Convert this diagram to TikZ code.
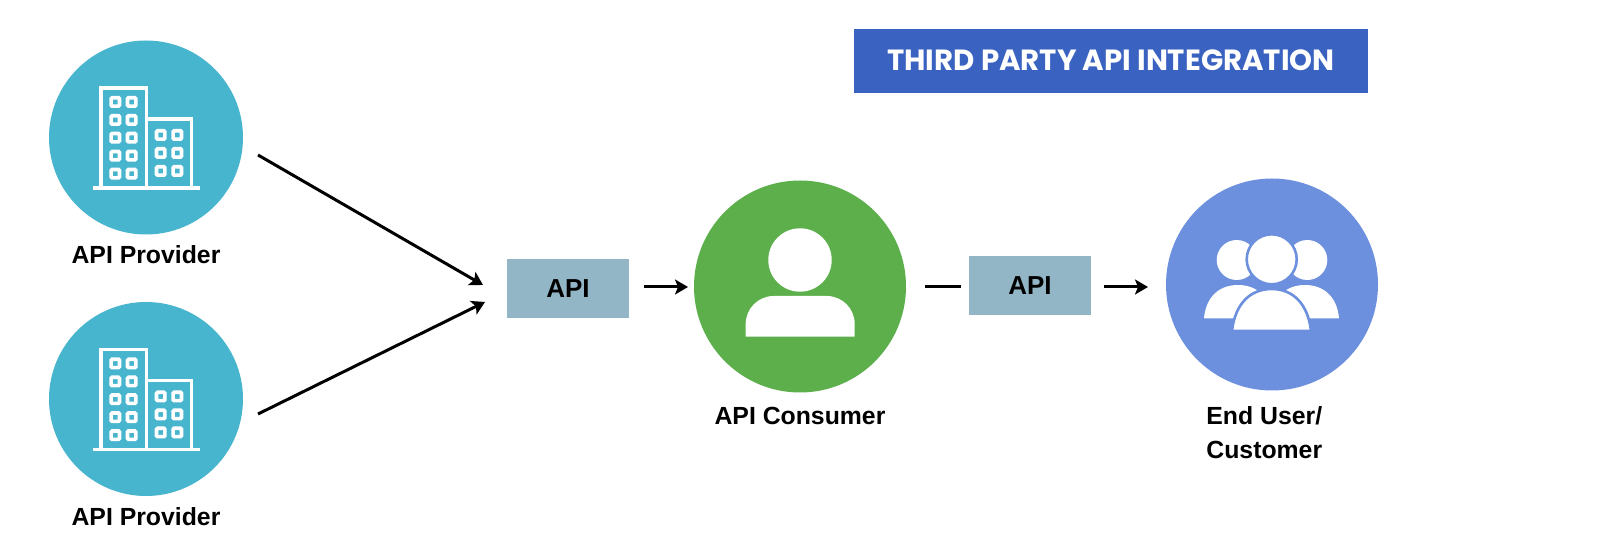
\documentclass[tikz,border=0pt]{standalone}
\usepackage{fontspec}
\setmainfont{Liberation Sans}
\newfontfamily\poppinsfont{Poppins}
\usetikzlibrary{arrows.meta}
\definecolor{teal1}{HTML}{47B5CE}
\definecolor{green1}{HTML}{5CAF4A}
\definecolor{blue1}{HTML}{6C90DD}
\definecolor{box1}{HTML}{93B6C7}
\definecolor{title1}{HTML}{3A62C0}
\tikzset{
  disc/.style={circle,inner sep=0pt,draw=none,fill=#1},
  apibox/.style={draw=none,fill=box1,inner sep=0pt,minimum width=61pt,minimum height=29.5pt,
    font=\fontsize{13}{15}\selectfont\bfseries,text=black},
  lbl/.style={font=\fontsize{12.4}{17}\selectfont\bfseries,text=black,inner sep=0pt},
  conn/.style={line width=1.5pt,draw=black},
  arr/.style={conn,-{Stealth[length=6.5pt,width=7.5pt,inset=1.5pt]}},
  bline/.style={draw=white,line width=1.6pt},
  win/.style={draw=white,line width=1.8pt,rounded corners=0.5pt},
}
\newcommand{\officeicon}{%
  \draw[bline] (101,188) -- (101,88) -- (146.5,88) -- (146.5,188);
  \draw[bline] (146.5,119) -- (191.5,119) -- (191.5,188);
  \draw[bline] (93,188) -- (200,188);
  \foreach \xx in {115.3,131.7}\foreach \yy in {102,120,137.7,155.7,173.7}
    \draw[win] (\xx-4.2,\yy-4.2) rectangle (\xx+4.2,\yy+4.2);
  \foreach \xx in {160.7,177.3}\foreach \yy in {135,153,171}
    \draw[win] (\xx-4.2,\yy-4.2) rectangle (\xx+4.2,\yy+4.2);
}
\begin{document}
\begin{tikzpicture}[x=0.5pt,y=-0.5pt]
\useasboundingbox (0,0) rectangle (1600,560);
\fill[white] (0,0) rectangle (1600,560);
% title
\node[draw=none,fill=title1,inner sep=0pt,minimum width=257pt,minimum height=32pt,text=white,
  font=\poppinsfont\fontsize{14.6}{16}\selectfont\bfseries] (title) at (1111,61) {\raisebox{0.5pt}{THIRD PARTY API INTEGRATION}};
% providers
\node[disc=teal1,minimum size=97pt] (prov1) at (146,137.5) {};
\officeicon
\node[lbl] (prov1l) at (146,255) {API Provider};
\node[disc=teal1,minimum size=97pt] (prov2) at (146,399) {};
\begin{scope}[yshift=-130.75pt]
\officeicon
\end{scope}
\node[lbl] (prov2l) at (146,517) {API Provider};
% API boxes
\node[apibox] (api1) at (568,288.5) {API};
\node[apibox] (api2) at (1030,286) {API};
% consumer
\node[disc=green1,minimum size=106pt] (cons) at (800,286.5) {};
\fill[white] (800,260) circle[radius=31.7];
\fill[white] (745.7,336.7) [rounded corners=14pt] -- (745.7,296) -- (854.7,296) [sharp corners] -- (854.7,336.7) -- cycle;
\node[lbl] (consl) at (800,416) {API Consumer};
% end user
\node[disc=blue1,minimum size=106pt] (user) at (1272,284.5) {};
\fill[white] (1236.7,260) circle[radius=20];
\fill[white] (1307.3,260) circle[radius=20];
\fill[white] (1204,318.3) .. controls (1206,296) and (1220,285) .. (1238,285)
  .. controls (1256,285) and (1270,296) .. (1272,318.3) -- cycle;
\fill[white] (1339,318.3) .. controls (1337,296) and (1323,285) .. (1305,285)
  .. controls (1287,285) and (1273,296) .. (1271,318.3) -- cycle;
\draw[draw=blue1,line width=1.3pt,fill=white] (1271.7,259.3) circle[radius=25];
\draw[draw=blue1,line width=1.3pt,fill=white] (1232,331) .. controls (1235,304) and (1250,289) .. (1271.7,289)
  .. controls (1293,289) and (1308,304) .. (1311,331) -- cycle;
\node[lbl,align=left,anchor=north west] (userl) at (1206,406) {End User/\\Customer};
% connectors
\coordinate (a1s) at (258,155);
\coordinate (a1e) at (483,285);
\coordinate (a2s) at (258,414);
\coordinate (a2e) at (485,302);
\coordinate (a3s) at (644,287);
\coordinate (a3e) at (688,287);
\coordinate (l1s) at (925,286.5);
\coordinate (l1e) at (961,286.5);
\coordinate (a4s) at (1104,287);
\coordinate (a4e) at (1148,287);
\draw[arr] (a1s) -- (a1e);
\draw[arr] (a2s) -- (a2e);
\draw[arr] (a3s) -- (a3e);
\draw[conn] (l1s) -- (l1e);
\draw[arr] (a4s) -- (a4e);
\end{tikzpicture}
\end{document}
